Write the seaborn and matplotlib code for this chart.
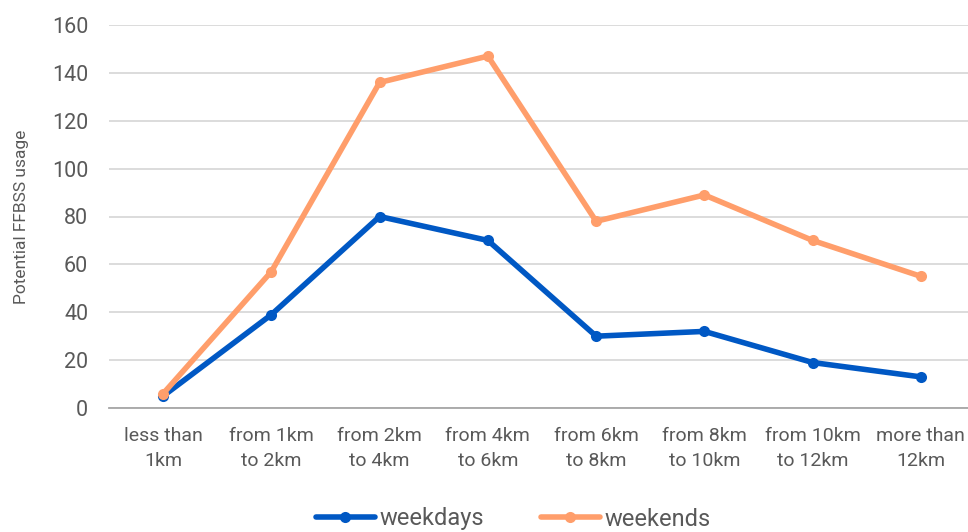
import matplotlib
matplotlib.use("Agg")
import matplotlib.pyplot as plt
import seaborn as sns
import pandas as pd

categories = ["less than\n1km", "from 1km\nto 2km", "from 2km\nto 4km", "from 4km\nto 6km",
              "from 6km\nto 8km", "from 8km\nto 10km", "from 10km\nto 12km", "more than\n12km"]
weekdays = [5, 39, 80, 70, 30, 32, 19, 13]
weekends = [6, 57, 136, 147, 78, 89, 70, 55]
y_ticks = [0, 20, 40, 60, 80, 100, 120, 140, 160]

sns.set_style("white")
plt.rcParams["font.family"] = ["Roboto", "DejaVu Sans"]
text_color = "#595959"

df = pd.DataFrame({
    "pos": list(range(len(categories))) * 2,
    "value": weekdays + weekends,
    "series": ["weekdays"] * len(weekdays) + ["weekends"] * len(weekends),
})

fig = plt.figure(figsize=(9.68, 5.32), dpi=100)
ax = fig.add_axes([109 / 968, 124 / 532, 866 / 968, 383 / 532])

sns.lineplot(data=df, x="pos", y="value", hue="series",
             palette={"weekdays": "#0058C4", "weekends": "#FF9E6B"},
             marker="o", markersize=8, markeredgewidth=0, linewidth=4,
             ax=ax, legend=True)

ax.set_xlim(-0.5, 7.5)
ax.set_ylim(0, 160)
ax.set_yticks(y_ticks)
ax.set_xticks(range(len(categories)))
ax.set_xticklabels(categories, fontsize=14, color=text_color, linespacing=1.45)
ax.tick_params(axis="y", labelsize=15.5, labelcolor=text_color, length=0, pad=15)
ax.tick_params(axis="x", length=0, pad=14)
ax.set_xlabel("")
ax.set_ylabel("Potential FFBSS usage", fontsize=12.5, color=text_color)
ax.yaxis.set_label_coords(-80 / 866, 0.5)

ax.grid(axis="y", color="#D9D9D9", linewidth=1.3)
ax.set_axisbelow(True)
for side in ["top", "right", "left"]:
    ax.spines[side].set_visible(False)
ax.spines["bottom"].set_color("#A6A6A6")
ax.spines["bottom"].set_linewidth(1.3)
ax.spines["bottom"].set_zorder(1)

handles, labels = ax.get_legend_handles_labels()
ax.legend(handles, labels, loc="center", bbox_to_anchor=(0.53, 13 / 532),
          bbox_transform=fig.transFigure, ncol=2, frameon=False,
          fontsize=17, labelcolor=text_color, handlelength=2.5,
          handletextpad=0.2, columnspacing=2.4)

fig.savefig("out.png", dpi=100)
